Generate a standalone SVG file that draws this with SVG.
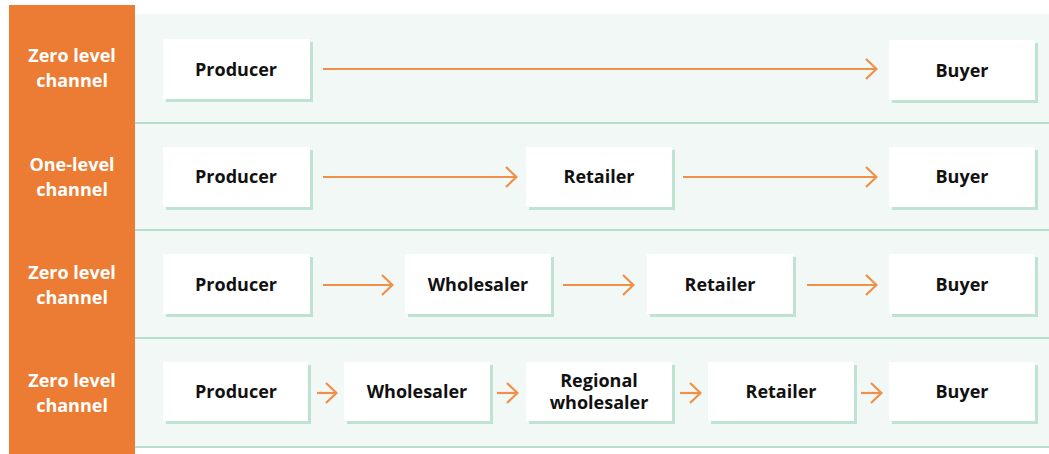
<svg xmlns="http://www.w3.org/2000/svg" width="1049" height="454" viewBox="0 0 1049 454">
<style>
.lbl{font-family:"Open Sans","Liberation Sans",sans-serif;font-weight:bold;font-size:18px;fill:#ffffff;text-anchor:middle}
.nt{font-family:"Open Sans","Liberation Sans",sans-serif;font-weight:bold;font-size:18px;fill:#111111;text-anchor:middle}
.box{fill:#ffffff}
.sh{fill:#bfe3d3}
.sep{stroke:#b5dfcb;stroke-width:2;fill:none}
.arr{stroke:#f08f48;stroke-width:2.2;fill:none;marker-end:url(#ah)}
</style>
<defs>
<marker id="ah" viewBox="0 0 14 22" refX="13" refY="11" markerWidth="14" markerHeight="22" markerUnits="userSpaceOnUse" orient="auto">
<path d="M2,1 L12.5,11 L2,21" fill="none" stroke="#f08f48" stroke-width="2.2"/>
</marker>
</defs>
<rect x="0" y="0" width="1049" height="454" fill="#ffffff"/>
<g id="background">
<rect x="135" y="14" width="914" height="434" fill="#f2f8f5"/>
<line class="sep" x1="135" y1="123" x2="1049" y2="123"/>
<line class="sep" x1="135" y1="230" x2="1049" y2="230"/>
<line class="sep" x1="135" y1="338" x2="1049" y2="338"/>
<line class="sep" x1="135" y1="447" x2="1049" y2="447"/>
<rect x="9" y="5" width="126" height="449" fill="#ec7c33"/>
</g>
<g id="row-labels">
<text class="lbl" x="72" y="62">Zero level</text>
<text class="lbl" x="72" y="87">channel</text>
<text class="lbl" x="72" y="171">One-level</text>
<text class="lbl" x="72" y="196">channel</text>
<text class="lbl" x="72" y="279">Zero level</text>
<text class="lbl" x="72" y="304">channel</text>
<text class="lbl" x="72" y="387">Zero level</text>
<text class="lbl" x="72" y="412">channel</text>
</g>
<g id="connectors">
<line class="arr" x1="323" y1="69" x2="877" y2="69"/>
<line class="arr" x1="323" y1="177" x2="517" y2="177"/>
<line class="arr" x1="683" y1="177" x2="877" y2="177"/>
<line class="arr" x1="323" y1="285" x2="393" y2="285"/>
<line class="arr" x1="563" y1="285" x2="634" y2="285"/>
<line class="arr" x1="807" y1="285" x2="877" y2="285"/>
<line class="arr" x1="317" y1="393" x2="337" y2="393"/>
<line class="arr" x1="497" y1="393" x2="518" y2="393"/>
<line class="arr" x1="680" y1="393" x2="701" y2="393"/>
<line class="arr" x1="861" y1="393" x2="882" y2="393"/>
</g>
<g id="r1-producer"><rect class="sh" x="166" y="42" width="147" height="60"/><rect class="box" x="163" y="39" width="147" height="60"/><text class="nt" x="236" y="76">Producer</text></g>
<g id="r1-buyer"><rect class="sh" x="892" y="43" width="146" height="60"/><rect class="box" x="889" y="40" width="146" height="60"/><text class="nt" x="962" y="77">Buyer</text></g>
<g id="r2-producer"><rect class="sh" x="166" y="150" width="147" height="60"/><rect class="box" x="163" y="147" width="147" height="60"/><text class="nt" x="236" y="183">Producer</text></g>
<g id="r2-retailer"><rect class="sh" x="529" y="150" width="146" height="60"/><rect class="box" x="526" y="147" width="146" height="60"/><text class="nt" x="599" y="183">Retailer</text></g>
<g id="r2-buyer"><rect class="sh" x="892" y="150" width="146" height="60"/><rect class="box" x="889" y="147" width="146" height="60"/><text class="nt" x="962" y="183">Buyer</text></g>
<g id="r3-producer"><rect class="sh" x="166" y="257" width="147" height="60"/><rect class="box" x="163" y="254" width="147" height="60"/><text class="nt" x="236" y="291">Producer</text></g>
<g id="r3-wholesaler"><rect class="sh" x="408" y="257" width="146" height="60"/><rect class="box" x="405" y="254" width="146" height="60"/><text class="nt" x="478" y="291">Wholesaler</text></g>
<g id="r3-retailer"><rect class="sh" x="650" y="257" width="146" height="60"/><rect class="box" x="647" y="254" width="146" height="60"/><text class="nt" x="720" y="291">Retailer</text></g>
<g id="r3-buyer"><rect class="sh" x="892" y="257" width="146" height="60"/><rect class="box" x="889" y="254" width="146" height="60"/><text class="nt" x="962" y="291">Buyer</text></g>
<g id="r4-producer"><rect class="sh" x="166" y="365" width="145" height="59"/><rect class="box" x="163" y="362" width="145" height="59"/><text class="nt" x="236" y="398">Producer</text></g>
<g id="r4-wholesaler"><rect class="sh" x="347" y="365" width="146" height="59"/><rect class="box" x="344" y="362" width="146" height="59"/><text class="nt" x="417" y="398">Wholesaler</text></g>
<g id="r4-regional"><rect class="sh" x="529" y="365" width="146" height="59"/><rect class="box" x="526" y="362" width="146" height="59"/><text class="nt" x="599" y="387">Regional</text><text class="nt" x="599" y="409">wholesaler</text></g>
<g id="r4-retailer"><rect class="sh" x="711" y="365" width="146" height="59"/><rect class="box" x="708" y="362" width="146" height="59"/><text class="nt" x="781" y="398">Retailer</text></g>
<g id="r4-buyer"><rect class="sh" x="892" y="365" width="146" height="59"/><rect class="box" x="889" y="362" width="146" height="59"/><text class="nt" x="962" y="398">Buyer</text></g>
</svg>
